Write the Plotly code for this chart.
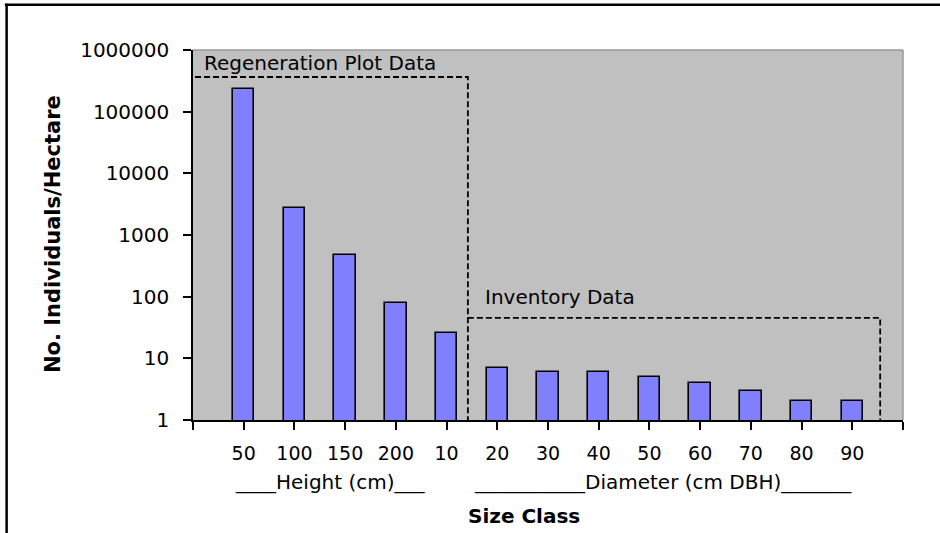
import plotly.graph_objects as go

# ---- data ----
size_classes = ["50", "100", "150", "200", "10", "20", "30", "40", "50", "60", "70", "80", "90"]
individuals_per_ha = [230000, 2700, 480, 78, 26, 7, 6, 6, 5, 4, 3, 2, 2]
y_tick_values = [1, 10, 100, 1000, 10000, 100000, 1000000]
y_tick_labels = ["1", "10", "100", "1000", "10000", "100000", "1000000"]

positions = list(range(len(size_classes)))

REG = "DejaVu Sans, Liberation Sans, sans-serif"
BOLD = "DejaVu Sans, Liberation Sans, sans-serif"

fig = go.Figure()
fig.add_trace(go.Bar(
    x=positions,
    y=individuals_per_ha,
    width=0.42,
    marker=dict(color="#8080FF", line=dict(color="black", width=1.6)),
    showlegend=False,
))

tickvals = [-1] + positions + [len(size_classes)]
ticktext = [""] + size_classes + [""]

fig.update_layout(
    width=940, height=533,
    margin=dict(l=193, r=37, t=50, b=113, autoexpand=False),
    paper_bgcolor="white",
    plot_bgcolor="#C0C0C0",
    bargap=0,
    xaxis=dict(
        range=[-1, len(size_classes)],
        tickmode="array", tickvals=tickvals, ticktext=ticktext,
        ticks="outside", ticklen=8, tickwidth=1.5, tickcolor="black",
        showline=True, linecolor="black", linewidth=1.5,
        showgrid=False, zeroline=False,
        tickfont=dict(family=REG, size=19, color="black"),
        ticklabelstandoff=7,
    ),
    yaxis=dict(
        type="log", range=[0, 6],
        tickmode="array", tickvals=y_tick_values, ticktext=y_tick_labels,
        ticks="outside", ticklen=8, tickwidth=1.5, tickcolor="black",
        showline=True, linecolor="black", linewidth=1.5,
        showgrid=False, zeroline=False,
        tickfont=dict(family=REG, size=20, color="black"),
        ticklabelstandoff=10,
    ),
)

# plot-area top/right border (dark gray)
fig.add_shape(type="line", xref="paper", yref="paper", x0=0, x1=1, y0=1, y1=1,
              line=dict(color="#999999", width=1.5), layer="below")
fig.add_shape(type="line", xref="paper", yref="paper", x0=1, x1=1, y0=0, y1=1,
              line=dict(color="#999999", width=1.5), layer="below")

# outer frame (top and left edges)
fig.add_shape(type="line", xref="paper", yref="paper", x0=-0.265, x1=1.2, y0=1.122, y1=1.122,
              line=dict(color="black", width=2.5))
fig.add_shape(type="line", xref="paper", yref="paper", x0=-0.2625, x1=-0.2625, y0=1.125, y1=-0.5,
              line=dict(color="black", width=2.5))

dash = "6px,3px"
# Regeneration box
fig.add_shape(type="path", xref="x", yref="paper",
              path="M -0.96 0.927 L 4.42 0.927 L 4.42 0",
              line=dict(color="black", width=1.8, dash=dash))
# Inventory box
fig.add_shape(type="path", xref="x", yref="paper",
              path="M 4.42 0.276 L 12.55 0.276 L 12.55 0",
              line=dict(color="black", width=1.8, dash=dash))

fig.add_annotation(text="Regeneration Plot Data", xref="x", yref="paper",
                   x=-0.83, y=0.965, xanchor="left", yanchor="middle", showarrow=False,
                   font=dict(family=REG, size=20, color="black"))
fig.add_annotation(text="Inventory Data", xref="x", yref="paper",
                   x=4.72, y=0.332, xanchor="left", yanchor="middle", showarrow=False,
                   font=dict(family=REG, size=20, color="black"))

# second row of category labels
fig.add_annotation(text="____Height (cm)___", xref="paper", yref="paper",
                   x=(330 - 193) / 710, y=(420 - 482) / 370, xanchor="center", yanchor="middle",
                   showarrow=False, font=dict(family=REG, size=20, color="black"))
fig.add_annotation(text="___________Diameter (cm DBH)_______", xref="paper", yref="paper",
                   x=(663 - 193) / 710, y=(420 - 482) / 370, xanchor="center", yanchor="middle",
                   showarrow=False, font=dict(family=REG, size=20, color="black"))

# axis titles
fig.add_annotation(text="<b>Size Class</b>", xref="paper", yref="paper",
                   x=(524 - 193) / 710, y=(420 - 516) / 370, xanchor="center", yanchor="middle",
                   showarrow=False, font=dict(family=BOLD, size=20, color="black"))
fig.add_annotation(text="<b>No. Individuals/Hectare</b>", xref="paper", yref="paper",
                   x=(53 - 193) / 710, y=(420 - 234) / 370, xanchor="center", yanchor="middle",
                   textangle=-90, showarrow=False, font=dict(family=BOLD, size=21, color="black"))

fig.write_html("out.html", config={"displayModeBar": False},
               post_script="document.body.style.margin='0';")
